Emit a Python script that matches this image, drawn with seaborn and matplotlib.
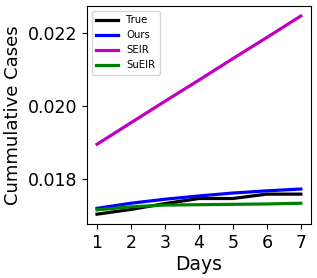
import pandas as pd
import matplotlib
matplotlib.use("Agg")
import matplotlib.pyplot as plt
import seaborn as sns

# --- DATA ---
days = [1, 2, 3, 4, 5, 6, 7]
true_vals = [0.01703, 0.01716, 0.01732, 0.01746, 0.01746, 0.01758, 0.01758]
ours_vals = [0.01719, 0.01733, 0.01744, 0.01753, 0.01761, 0.01767, 0.01772]
seir_vals = [0.01895, 0.01954, 0.02013, 0.02071, 0.02130, 0.02188, 0.02247]
sueir_vals = [0.01715, 0.01723, 0.01728, 0.01729, 0.01730, 0.01731, 0.01733]

series = {"True": true_vals, "Ours": ours_vals, "SEIR": seir_vals, "SuEIR": sueir_vals}
colors = {"True": "k", "Ours": "b", "SEIR": "m", "SuEIR": "g"}

rows = []
for name, vals in series.items():
    for d, v in zip(days, vals):
        rows.append({"Days": d, "Value": v, "Model": name})
df = pd.DataFrame(rows)

# --- PLOT ---
fig = plt.figure(figsize=(3.17, 2.78), dpi=100)
ax = fig.add_axes([0.274, 0.194, 0.707, 0.784])
sns.lineplot(data=df, x="Days", y="Value", hue="Model", palette=colors,
             linewidth=2.3, ax=ax)

ax.set_xticks(days)
ax.set_yticks([0.018, 0.020, 0.022])
ax.tick_params(labelsize=12.5)
ax.set_xlabel("Days", fontsize=13.5, labelpad=2)
ax.set_ylabel("Cummulative Cases", fontsize=13, labelpad=4)
ax.legend(title=None, fontsize=7.3, loc="upper left", handlelength=2.2)

plt.savefig("out.png", dpi=100)
